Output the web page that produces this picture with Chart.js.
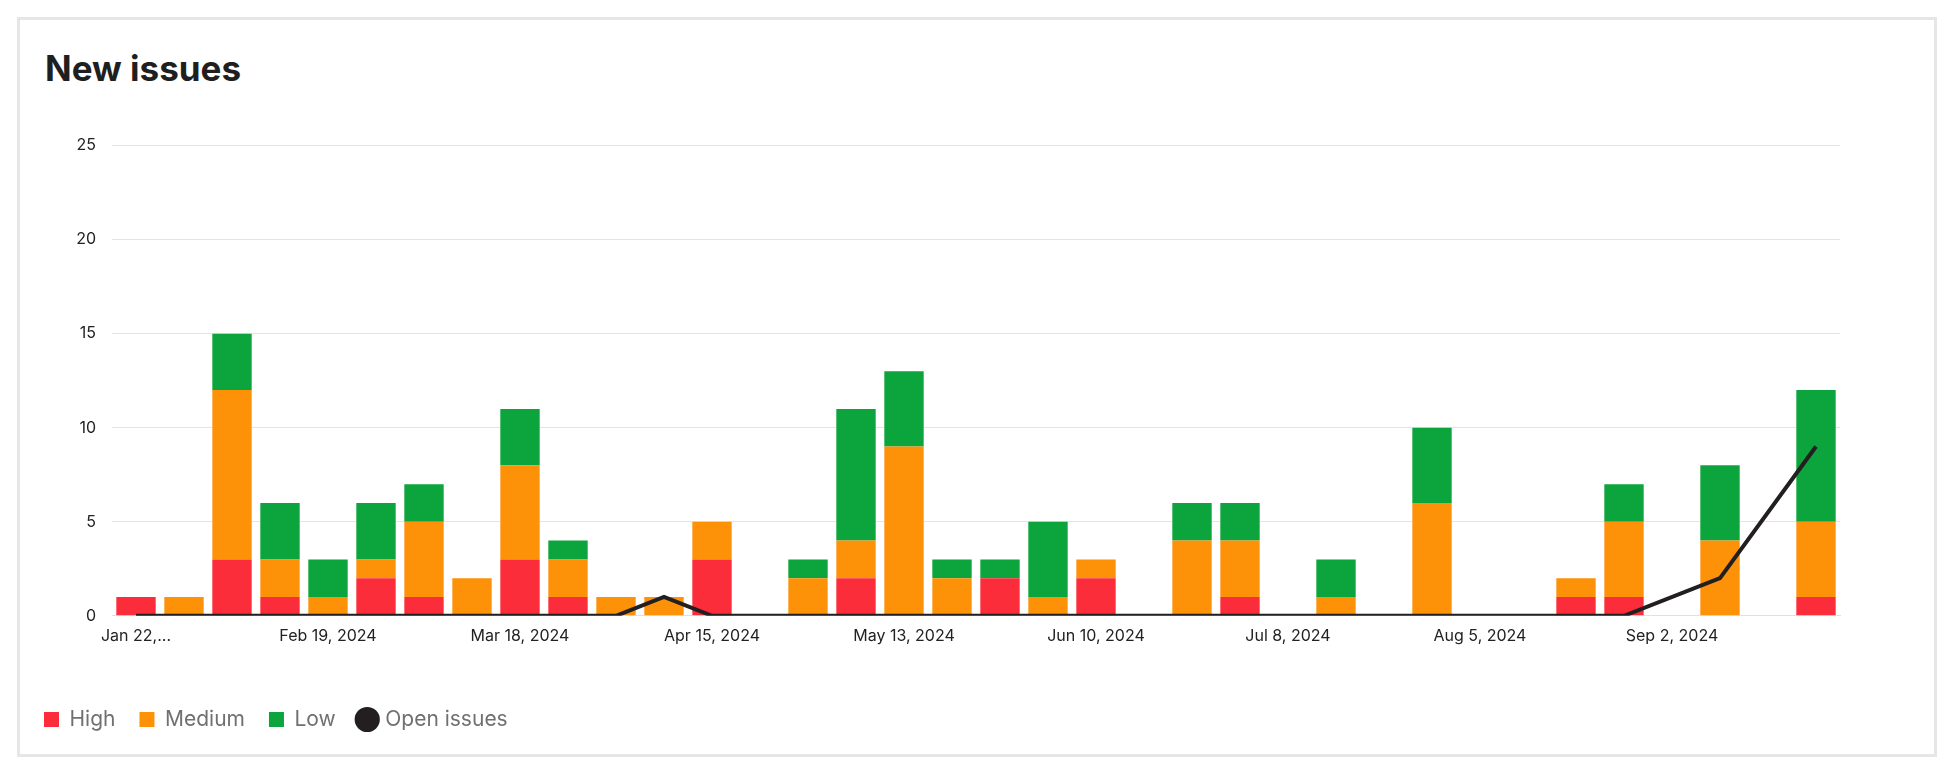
<!DOCTYPE html>
<html>
<head>
<meta charset="utf-8">
<script src="https://cdn.jsdelivr.net/npm/chart.js@4"></script>
<style>
body{margin:0;background:#fff;font-family:Inter,sans-serif;}
#card{position:absolute;left:17px;top:17px;width:1914px;height:734px;border:3px solid #e6e6e6;background:#fff;}
h1{position:absolute;left:25px;top:27px;margin:0;font-size:35px;font-weight:700;color:#1f1f1f;}
#wrap{position:absolute;left:0;top:100px;width:1914px;height:630px;}
</style>
</head>
<body>
<div id="card">
<h1>New issues</h1>
<div id="wrap"><canvas id="chart"></canvas></div>
</div>
<script>
// weekly buckets, starting Jan 22, 2024
let weeks = [];
let start = new Date(2024, 0, 22);
for(let i = 0; i < 36; i++){
let d = new Date(start.getTime() + i * 7 * 86400000);
weeks.push(d.toLocaleString('en-US', { month: 'short', day: 'numeric', year: 'numeric' }));
}

let high   = [1,0,3,1,0,2,1,0,3,1,0,0,3,0,0,2,0,0,2,0,2,0,0,1,0,0,0,0,0,0,1,1,0,0,0,1];
let medium = [0,1,9,2,1,1,4,2,5,2,1,1,2,0,2,2,9,2,0,1,1,0,4,3,0,1,0,6,0,0,1,4,0,4,0,4];
let low    = [0,0,3,3,2,3,2,0,3,1,0,0,0,0,1,7,4,1,1,4,0,0,2,2,0,2,0,4,0,0,0,2,0,4,0,7];
let openIssues = [0,0,0,0,0,0,0,0,0,0,0,1,0,0,0,0,0,0,0,0,0,0,0,0,0,0,0,0,0,0,0,0,null,2,null,9];

const ctx = document.getElementById('chart');

new Chart(ctx, {
data: {
labels: weeks,
datasets: [
{ type: 'line', label: 'Open issues', data: openIssues, borderColor: '#231f20', backgroundColor: '#231f20',
  borderWidth: 4, pointRadius: 0, tension: 0, spanGaps: true, pointStyle: 'circle', order: 0 },
{ type: 'bar', label: 'High', data: high, backgroundColor: '#fb2d3b', pointStyle: 'rect', order: 1 },
{ type: 'bar', label: 'Medium', data: medium, backgroundColor: '#fd9208', pointStyle: 'rect', order: 1 },
{ type: 'bar', label: 'Low', data: low, backgroundColor: '#0ca43c', pointStyle: 'rect', order: 1 }
]
},
options: {
responsive: true,
maintainAspectRatio: false,
animation: false,
layout: { padding: { left: 0, right: 94, top: 10, bottom: 10 } },
datasets: { bar: { categoryPercentage: 1, barPercentage: 0.82 } },
scales: {
x: {
stacked: true,
grid: { display: false },
border: { color: '#e0e0e0' },
afterFit: s => { s.height += 36; },
ticks: {
autoSkip: false, maxRotation: 0, color: '#222', font: { family: 'Inter', size: 16 },
callback: function(v, i){
if(i % 4 !== 0) return '';
if(i === 0) return 'Jan 22,...';
return this.getLabelForValue(v);
}
}
},
y: {
stacked: true,
min: 0, max: 25,
afterFit: s => { s.width = 92; },
ticks: { stepSize: 5, color: '#222', padding: 16, font: { family: 'Inter', size: 16 } },
grid: { color: '#e4e4e4', drawTicks: false },
border: { display: false }
}
},
plugins: {
tooltip: { enabled: false },
legend: {
position: 'bottom', align: 'start',
labels: {
usePointStyle: true, boxWidth: 15, boxHeight: 15, padding: 24,
color: '#707070', font: { family: 'Inter', size: 21 },
sort: (a, b) => (a.text === 'Open issues') - (b.text === 'Open issues')
}
}
}
}
});
</script>
</body>
</html>
